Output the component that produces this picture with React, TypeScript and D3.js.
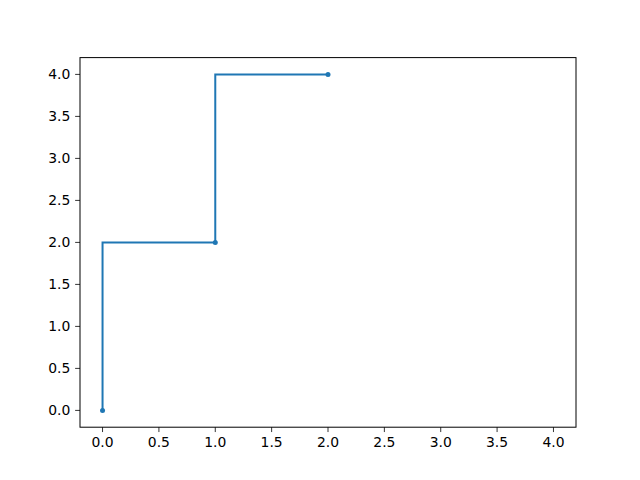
import React from "react";
import * as d3 from "d3";

const xValues = [0, 1, 2];
const yValues = [0, 2, 4];
const xTicks = [0, 0.5, 1, 1.5, 2, 2.5, 3, 3.5, 4];
const yTicks = [0, 0.5, 1, 1.5, 2, 2.5, 3, 3.5, 4];

export default function App() {
  const W = 640, H = 480;
  const left = 80, right = 576, top = 57.6, bottom = 427.2;
  const x = d3.scaleLinear().domain([-0.2, 4.2]).range([left, right]);
  const y = d3.scaleLinear().domain([-0.2, 4.2]).range([bottom, top]);
  const pts = xValues.map((v, i) => [v, yValues[i]] as [number, number]);
  const line = d3.line<[number, number]>().x(d => x(d[0])).y(d => y(d[1])).curve(d3.curveStepBefore);
  const font = "DejaVu Sans";
  return (
    <svg width={W} height={H} style={{ position: "absolute", left: 0, top: 0 }}>
      <rect width={W} height={H} fill="white" />
      <path d={line(pts) || ""} fill="none" stroke="#1f77b4" strokeWidth={2} />
      {pts.map((p, i) => (
        <circle key={i} cx={x(p[0])} cy={y(p[1])} r={2.5} fill="#1f77b4" />
      ))}
      <rect x={left} y={top} width={right - left} height={bottom - top} fill="none" stroke="black" strokeWidth={1} />
      {xTicks.map(t => (
        <g key={"x" + t}>
          <line x1={x(t)} x2={x(t)} y1={bottom} y2={bottom + 4.86} stroke="black" strokeWidth={0.8} />
          <text x={x(t)} y={bottom + 4.86 + 4.86 + 10} textAnchor="middle" fontFamily={font} fontSize={13.9} fill="black">{t.toFixed(1)}</text>
        </g>
      ))}
      {yTicks.map(t => (
        <g key={"y" + t}>
          <line x1={left - 4.86} x2={left} y1={y(t)} y2={y(t)} stroke="black" strokeWidth={0.8} />
          <text x={left - 4.86 - 4.86} y={y(t)} dy="0.35em" textAnchor="end" fontFamily={font} fontSize={13.9} fill="black">{t.toFixed(1)}</text>
        </g>
      ))}
    </svg>
  );
}
